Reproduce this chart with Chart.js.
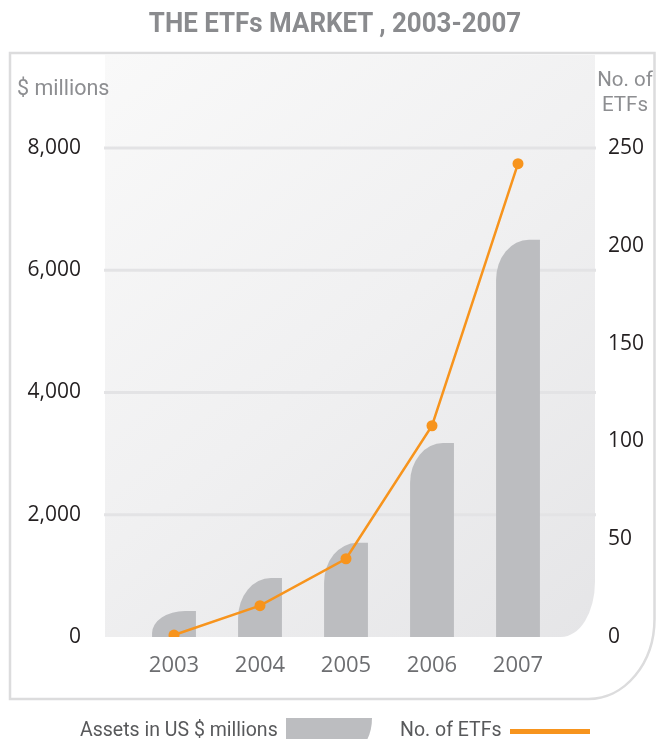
<!DOCTYPE html>
<html>
<head>
<meta charset="utf-8">
<script src="https://cdn.jsdelivr.net/npm/chart.js@4/dist/chart.umd.min.js"></script>
<style>
  html, body { margin: 0; padding: 0; background: #ffffff; }
  #wrap { position: relative; width: 656px; height: 739px; overflow: hidden; font-family: Roboto, "Open Sans", sans-serif; }
  #c { position: absolute; left: 0; top: 0; }
  .txt { position: absolute; white-space: nowrap; }
  #title { left: 0; width: 670px; top: 7px; text-align: center; font-weight: bold; font-size: 27px; color: #8a8b8e; transform: scaleX(0.96); transform-origin: 335px 0; }
  #ylab { left: 17px; top: 75px; font-size: 21.5px; color: #8d8e91; }
  #y1lab { left: 590px; width: 70px; top: 67px; font-size: 20.5px; color: #8d8e91; text-align: center; line-height: 25px; }
  #leg1 { left: 80px; top: 718px; font-size: 19.5px; color: #58595b; }
  #leg2 { left: 400px; top: 718px; font-size: 19.5px; color: #58595b; }
  #sw1 { position: absolute; left: 286px; top: 718px; width: 86px; height: 30px; background: #bcbdc0; border-bottom-right-radius: 16px 30px; }
  #sw2 { position: absolute; left: 510px; top: 729px; width: 80px; height: 5px; background: #f7941d; }
</style>
</head>
<body>
<div id="wrap">
  <canvas id="c" width="656" height="739"></canvas>
  <div class="txt" id="title">THE ETFs MARKET , 2003-2007</div>
  <div class="txt" id="ylab">$ millions</div>
  <div class="txt" id="y1lab">No. of<br>ETFs</div>
  <div class="txt" id="leg1">Assets in US $ millions</div>
  <div id="sw1"></div>
  <div class="txt" id="leg2">No. of ETFs</div>
  <div id="sw2"></div>
</div>
<script>
const years = ['2003', '2004', '2005', '2006', '2007'];
const assets = [425, 965, 1540, 3175, 6500];
const etfCount = [1, 16, 40, 108, 242];
const leftTicks = [0, 2000, 4000, 6000, 8000];
const rightTicks = [0, 50, 100, 150, 200, 250];

const BAR_COLOR = '#bcbdc0';
const LINE_COLOR = '#f7941d';

function roundedPanel(ctx, x0, y0, x1, y1, rx, ry) {
  ctx.beginPath();
  ctx.moveTo(x0, y0);
  ctx.lineTo(x1, y0);
  ctx.lineTo(x1, y1 - ry);
  ctx.ellipse(x1 - rx, y1 - ry, rx, ry, 0, 0, Math.PI / 2);
  ctx.lineTo(x0, y1);
  ctx.closePath();
}

const backdrop = {
  id: 'backdrop',
  beforeDraw(chart) {
    const ctx = chart.ctx;
    const ys = chart.scales.y;
    ctx.save();
    ctx.strokeStyle = '#dcdcdd';
    ctx.lineWidth = 2.5;
    roundedPanel(ctx, 10, 53, 654.5, 699, 66, 80);
    ctx.stroke();
    const g = ctx.createLinearGradient(105, 55, 595, 637);
    g.addColorStop(0, '#f9f9f9');
    g.addColorStop(0.5, '#f0f0f1');
    g.addColorStop(1, '#e5e5e7');
    ctx.fillStyle = g;
    roundedPanel(ctx, 105, 55, 595, ys.getPixelForValue(0), 34, 55);
    ctx.fill();
    ctx.strokeStyle = '#e3e3e5';
    ctx.lineWidth = 3;
    leftTicks.forEach(v => {
      if (v === 0) return;
      const y = ys.getPixelForValue(v);
      ctx.beginPath();
      ctx.moveTo(104, y);
      ctx.lineTo(596, y);
      ctx.stroke();
    });
    ctx.restore();
  },
  beforeDatasetDraw(chart, args) {
    if (args.meta.type !== 'bar') return;
    const ctx = chart.ctx;
    ctx.save();
    ctx.fillStyle = BAR_COLOR;
    args.meta.data.forEach(el => {
      const p = el.getProps(['x', 'y', 'base', 'width'], true);
      const left = p.x - p.width / 2, right = p.x + p.width / 2;
      const top = p.y, bottom = p.base;
      const h = bottom - top;
      const rx = p.width * 0.75;
      const ry = Math.min(40, h * 0.85);
      ctx.beginPath();
      ctx.moveTo(left, bottom);
      ctx.lineTo(left, top + ry);
      ctx.ellipse(left + rx, top + ry, rx, ry, 0, Math.PI, Math.PI * 1.5);
      ctx.lineTo(right, top);
      ctx.lineTo(right, bottom);
      ctx.closePath();
      ctx.fill();
    });
    ctx.restore();
    return false;
  }
};

const tickFont = { family: '"Open Sans", sans-serif', size: 21 };

new Chart(document.getElementById('c'), {
  data: {
    labels: years,
    datasets: [
      {
        type: 'line',
        label: 'No. of ETFs',
        data: etfCount,
        yAxisID: 'y1',
        order: 0,
        borderColor: LINE_COLOR,
        backgroundColor: LINE_COLOR,
        borderWidth: 2.5,
        tension: 0,
        pointRadius: 5.5,
        pointBorderWidth: 0,
        pointBackgroundColor: LINE_COLOR
      },
      {
        type: 'bar',
        label: 'Assets in US $ millions',
        data: assets,
        yAxisID: 'y',
        order: 1,
        backgroundColor: BAR_COLOR,
        categoryPercentage: 1,
        barPercentage: 0.51
      }
    ]
  },
  options: {
    responsive: false,
    animation: false,
    layout: { padding: { top: 148, left: 0, right: 0, bottom: 0 } },
    plugins: { legend: { display: false }, tooltip: { enabled: false }, title: { display: false } },
    scales: {
      x: {
        offset: true,
        grid: { display: false },
        border: { display: false },
        ticks: { font: { family: '"Open Sans", sans-serif', size: 22 }, color: '#6d6e71', padding: 8 },
        afterFit(s) { s.height = 102; }
      },
      y: {
        position: 'left',
        min: 0, max: 8000,
        afterBuildTicks(s) { s.ticks = leftTicks.map(v => ({ value: v })); },
        grid: { display: false },
        border: { display: false },
        ticks: { font: tickFont, color: '#231f20', padding: 42, callback: v => v.toLocaleString('en-US') },
        afterFit(s) { s.width = 131; }
      },
      y1: {
        position: 'right',
        min: 0, max: 250,
        afterBuildTicks(s) { s.ticks = rightTicks.map(v => ({ value: v })); },
        grid: { display: false },
        border: { display: false },
        ticks: { font: tickFont, color: '#231f20', padding: 39 },
        afterFit(s) { s.width = 95; }
      }
    }
  },
  plugins: [backdrop]
});
</script>
</body>
</html>
